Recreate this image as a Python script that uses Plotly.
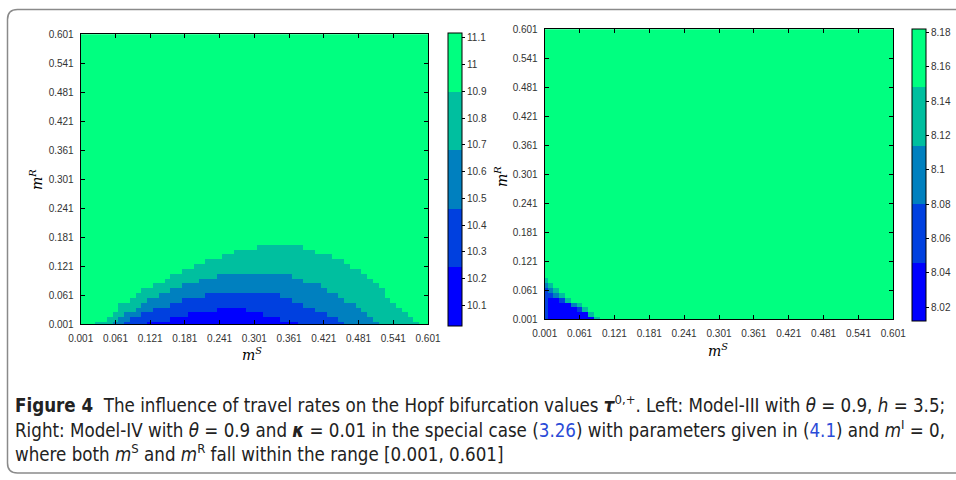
import numpy as np
import plotly.graph_objects as go

W, H = 956, 480

# grid of travel rates
mS = [round(0.001 + 0.01 * i, 3) for i in range(61)]
mR = [round(0.001 + 0.01 * j, 3) for j in range(61)]
tick_vals = [0.001, 0.061, 0.121, 0.181, 0.241, 0.301, 0.361, 0.421, 0.481, 0.541, 0.601]
tick_text = ["0.001", "0.061", "0.121", "0.181", "0.241", "0.301", "0.361", "0.421", "0.481", "0.541", "0.601"]

# Left panel: colour-band boundaries (colorbar) and number of grid rows (from m^R=0.001 upward)
# lying in band <= k for every m^S column
left_levels = [10.025, 10.244, 10.463, 10.682, 10.901, 11.12]
left_rows_b0 = [0]*12 + [1, 1, 1, 1, 2, 2, 2, 3, 3, 3, 3, 3, 4, 4, 4, 4, 4, 3, 3, 3, 2, 2, 2, 1, 1, 1] + [0]*23
left_rows_b1 = [0]*8 + [1, 2, 2, 3, 3, 4, 4, 4, 5, 5, 6, 6, 6, 6, 7, 7, 7, 7, 7, 7, 7, 7, 7, 7, 7, 7, 7,
                        6, 6, 5, 5, 4, 4, 3, 3, 2, 2, 1] + [0]*15
left_rows_b2 = [0]*6 + [1, 2, 3, 3, 4, 5, 6, 6, 7, 7, 8, 8, 9, 9, 9, 10, 10, 10, 11, 11, 11, 11, 11, 11, 11,
                        11, 11, 11, 11, 11, 11, 10, 10, 9, 9, 9, 8, 7, 7, 6, 5, 5, 4, 3, 2, 1] + [0]*9
left_rows_b3 = [0, 0, 0, 1, 1, 2, 3, 5, 5, 6, 7, 8, 8, 9, 9, 10, 11, 11, 12, 12, 13, 13, 14, 14, 14, 15, 15,
                16, 16, 16, 16, 17, 17, 17, 17, 17, 17, 17, 17, 16, 16, 15, 15, 15, 14, 14, 13, 12, 12, 11,
                10, 9, 8, 6, 5, 4, 3, 2, 1, 0, 0]
left_cb_vals = [10.1, 10.2, 10.3, 10.4, 10.5, 10.6, 10.7, 10.8, 10.9, 11.0, 11.1]
left_cb_text = ["10.1", "10.2", "10.3", "10.4", "10.5", "10.6", "10.7", "10.8", "10.9", "11", "11.1"]

# Right panel
right_levels = [8.012, 8.046, 8.080, 8.114, 8.148, 8.182]
right_rows_b0 = [0, 5, 5, 4, 4, 3, 2, 2, 1] + [0]*52
right_rows_b1 = [7, 6, 5, 5, 4, 3, 3, 2, 1] + [0]*52
right_rows_b2 = [8, 7, 6, 5, 4, 4, 3, 2, 1, 0] + [0]*51
right_rows_b3 = [9, 8, 7, 6, 5, 4, 4, 3, 2, 1] + [0]*51
right_cb_vals = [8.02, 8.04, 8.06, 8.08, 8.10, 8.12, 8.14, 8.16, 8.18]
right_cb_text = ["8.02", "8.04", "8.06", "8.08", "8.1", "8.12", "8.14", "8.16", "8.18"]

band_colors = ["#0000ff", "#0040df", "#0080bf", "#00bf9f", "#00ff80"]


def build_z(levels, rows):
    mids = [(levels[k] + levels[k + 1]) / 2 for k in range(5)]
    z = []
    for j in range(len(mR)):
        row = []
        for i in range(len(mS)):
            band = 4
            for k in range(4):
                if j < rows[k][i]:
                    band = k
                    break
            row.append(mids[band])
        z.append(row)
    return z


def stepped_scale():
    cs = []
    for k, c in enumerate(band_colors):
        cs.append([k / 5, c])
        cs.append([(k + 1) / 5, c])
    return cs


zl = build_z(left_levels, [left_rows_b0, left_rows_b1, left_rows_b2, left_rows_b3])
zr = build_z(right_levels, [right_rows_b0, right_rows_b1, right_rows_b2, right_rows_b3])


def px_x(p):
    return p / W


def px_y(p):
    return 1 - p / H


tick_font = dict(family="Liberation Sans, Arial, sans-serif", size=10, color="#333333")

cb_common = dict(thickness=14, thicknessmode="pixels", lenmode="fraction", xanchor="left", yanchor="top",
                 xpad=0, ypad=0, outlinewidth=1, outlinecolor="black", ticks="outside", ticklen=3,
                 tickcolor="black", tickfont=tick_font)

fig = go.Figure()
fig.add_trace(go.Heatmap(x=mS, y=mR, z=zl, colorscale=stepped_scale(), zmin=left_levels[0], zmax=left_levels[-1],
                         xaxis="x", yaxis="y",
                         colorbar=dict(x=px_x(447.5), y=px_y(32.5), len=(325 - 32.5) / H,
                                       tickvals=left_cb_vals, ticktext=left_cb_text, **cb_common)))
fig.add_trace(go.Heatmap(x=mS, y=mR, z=zr, colorscale=stepped_scale(), zmin=right_levels[0], zmax=right_levels[-1],
                         xaxis="x2", yaxis="y2",
                         colorbar=dict(x=px_x(912), y=px_y(29), len=(321 - 29) / H,
                                       tickvals=right_cb_vals, ticktext=right_cb_text, **cb_common)))

ax_common = dict(range=[0.001, 0.601], tickvals=tick_vals, ticktext=tick_text, ticks="inside", ticklen=4,
                 tickcolor="black", showline=True, linecolor="black", linewidth=1, mirror="ticks",
                 showgrid=False, zeroline=False, automargin=False, tickfont=tick_font)

fig.update_layout(
    width=W, height=H, margin=dict(l=0, r=0, t=0, b=0, autoexpand=False),
    paper_bgcolor="white", plot_bgcolor="white",
    xaxis=dict(domain=[px_x(80.7), px_x(428)], anchor="y", ticklabelstandoff=5, **ax_common),
    yaxis=dict(domain=[px_y(324.3), px_y(34.3)], anchor="x", ticklabelstandoff=4, **ax_common),
    xaxis2=dict(domain=[px_x(544.7), px_x(893.3)], anchor="y2", ticklabelstandoff=5, **ax_common),
    yaxis2=dict(domain=[px_y(319.3), px_y(29.3)], anchor="x2", ticklabelstandoff=4, **ax_common),
    showlegend=False,
)

label_font = dict(family="DejaVu Serif, Liberation Serif", size=14, color="black")
ann = [
    dict(text="<i>m</i><sup><i>S</i></sup>", x=px_x(252), y=px_y(354), xref="paper", yref="paper",
         showarrow=False, font=label_font, xanchor="center", yanchor="middle"),
    dict(text="<i>m</i><sup><i>R</i></sup>", x=px_x(36), y=px_y(180), xref="paper", yref="paper",
         showarrow=False, font=label_font, textangle=-90, xanchor="center", yanchor="middle"),
    dict(text="<i>m</i><sup><i>S</i></sup>", x=px_x(718), y=px_y(350), xref="paper", yref="paper",
         showarrow=False, font=label_font, xanchor="center", yanchor="middle"),
    dict(text="<i>m</i><sup><i>R</i></sup>", x=px_x(501), y=px_y(176), xref="paper", yref="paper",
         showarrow=False, font=label_font, textangle=-90, xanchor="center", yanchor="middle"),
]

cap_font = dict(family="DejaVu Sans Condensed, Open Sans, Liberation Sans", size=18.6, color="#222")
blue = "#2a4bd7"
cap_lines = [
    "<b>Figure 4</b>  The influence of travel rates on the Hopf bifurcation values <b><i>τ</i></b><sup>0,+</sup>. "
    "Left: Model-III with <i>θ</i> = 0.9, <i>h</i> = 3.5;",
    "Right: Model-IV with <i>θ</i> = 0.9 and <b><i>κ</i></b> = 0.01 in the special case "
    f"(<span style='color:{blue}'>3.26</span>) with parameters given in (<span style='color:{blue}'>4.1</span>) "
    "and <i>m</i><sup>I</sup> = 0,",
    "where both <i>m</i><sup>S</sup> and <i>m</i><sup>R</sup> fall within the range [0.001, 0.601]",
]
for t, yy in zip(cap_lines, [404, 429, 453]):
    ann.append(dict(text=t, x=px_x(13), y=px_y(yy), xref="paper", yref="paper", showarrow=False,
                    font=cap_font, xanchor="left", yanchor="middle", align="left"))
fig.update_layout(annotations=ann)

# rounded frame around the figure
x0, y0, x1, y1, r = 7.5, 9.5, 990, 473, 10
pts = (f"M {px_x(x0 + r)},{px_y(y0)} L {px_x(x1)},{px_y(y0)} L {px_x(x1)},{px_y(y1)} "
       f"L {px_x(x0 + r)},{px_y(y1)} Q {px_x(x0)},{px_y(y1)} {px_x(x0)},{px_y(y1 - r)} "
       f"L {px_x(x0)},{px_y(y0 + r)} Q {px_x(x0)},{px_y(y0)} {px_x(x0 + r)},{px_y(y0)}")
fig.add_shape(type="path", path=pts, xref="paper", yref="paper", line=dict(color="#8a8a8a", width=1.5))

fig.write_html("out.html")
